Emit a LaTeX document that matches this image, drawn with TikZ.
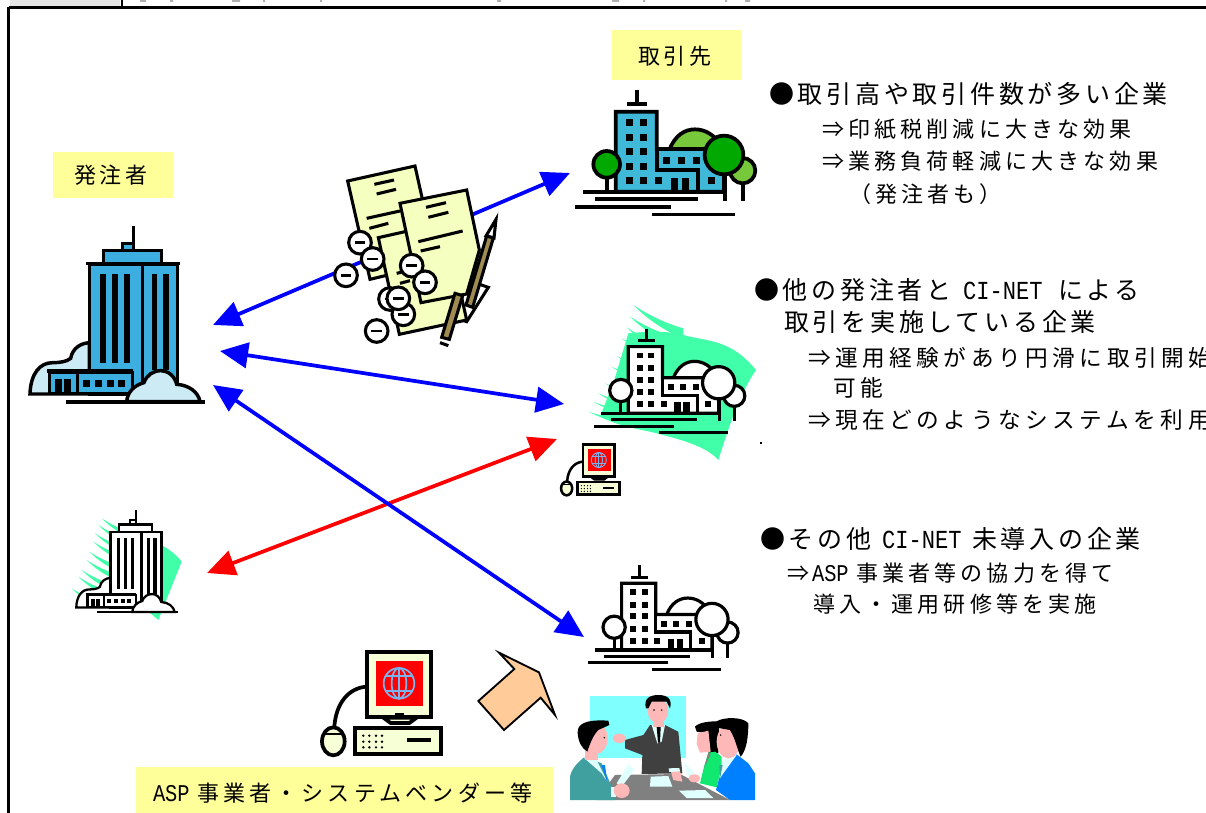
\documentclass[tikz,border=0pt]{standalone}
\usepackage{fontspec}
\usetikzlibrary{arrows.meta}
\newfontfamily\jpf{Noto Sans CJK JP}
\newfontfamily\lat[FakeStretch=0.85]{Liberation Mono}
\definecolor{labelyellow}{HTML}{FFFF99}
\definecolor{towerblue}{HTML}{3DAEE0}
\definecolor{cloudblue}{HTML}{CDEBF5}
\definecolor{mint}{HTML}{40FFA8}
\definecolor{paper}{HTML}{F4FFC0}
\definecolor{pcl}{HTML}{F6FFD6}
\definecolor{pencilb}{HTML}{A08C50}
\definecolor{treedark}{HTML}{00A800}
\definecolor{treelight}{HTML}{78C83C}
\definecolor{campusblue}{HTML}{40B8D8}
\definecolor{globeb}{HTML}{78B4F0}
\definecolor{peach}{HTML}{FFCC99}
\definecolor{skin}{HTML}{FFB8B8}
\definecolor{teal}{HTML}{40A0A0}
\definecolor{suit}{HTML}{404040}
\definecolor{tablegray}{HTML}{808080}
\definecolor{ice}{HTML}{E0FFFF}
\definecolor{cellgray}{HTML}{E6E6E6}
\definecolor{wall}{HTML}{80FFFF}
\definecolor{jacket}{HTML}{0080FF}
\definecolor{dress}{HTML}{10E870}
\definecolor{speck}{HTML}{B0B0B0}
\tikzset{
  lab/.style={fill=labelyellow,draw=none},
  conn/.style={line width=2.8pt,{Triangle[length=21pt,width=19pt]}-{Triangle[length=21pt,width=19pt]}},
  jt/.style={anchor=base west,inner sep=0pt,outer sep=0pt,text=black},
  big/.style={jt,font=\jpf\fontsize{18.75}{18}\selectfont\addfontfeature{LetterSpace=15}},
  mid/.style={jt,font=\jpf\fontsize{16.5}{18}\selectfont\addfontfeature{LetterSpace=17}},
  mids/.style={jt,font=\jpf\fontsize{16.5}{18}\selectfont\addfontfeature{LetterSpace=19}},
  lt/.style={jt,font=\lat\fontsize{19.5}{18}\selectfont},
  lts/.style={jt,font=\lat\fontsize{18}{18}\selectfont},
  mn/.style={draw=black,line width=2.3pt,fill=white},
}
% --- tall office tower, coordinates of a 900x840 sketch
\newcommand\towerart[3]{%
\begin{scope}[ol/.style={draw=black,line width=#3pt,fill=#1},cl/.style={draw=black,line width=#3pt,fill=#2}]
\path[cl] (90,762) .. controls (92,700) and (120,668) .. (158,668) .. controls (180,668) and (200,665) .. (212,655) .. controls (218,625) and (240,610) .. (268,608) -- (268,762) -- cycle;
\path[ol] (268,372) rectangle (532,762);
\draw[line width=#3pt] (428,372) -- (428,762);
\draw[line width=#3pt] (258,370) -- (540,370);
\path[ol] (310,332) rectangle (484,370);
\path[ol] (368,310) rectangle (400,332);
\draw[line width=#3pt] (401,258) -- (401,310);
\foreach \a in {300,336,372} \fill (\a,402) rectangle +(18,266);
\foreach \a in {456,490} \fill (\a,402) rectangle +(16,288);
\path[ol] (148,697) rectangle (398,760);
\draw[line width=#3pt] (140,693) -- (400,693);
\draw[line width=#3pt] (232,697) -- (232,760);
\foreach \a in {165,193} \fill (\a,718) rectangle +(20,42);
\foreach \a in {250,285,320,355} \fill (\a,720) rectangle +(21,20);
\path[cl] (380,785) .. controls (382,755) and (405,735) .. (432,728) .. controls (440,705) and (460,692) .. (483,692) .. controls (505,692) and (525,710) .. (530,733) .. controls (565,735) and (595,755) .. (600,785) -- cycle;
\draw[line width=#3pt] (198,786) -- (615,786);
\end{scope}}
% --- campus of buildings and trees
\newcommand\campusart[5]{%
\begin{scope}[ol/.style={draw=black,line width=#5pt}]
\path[ol,fill=#4] (328,230) -- (328,210) .. controls (345,165) and (375,148) .. (405,148) .. controls (435,148) and (465,165) .. (480,195) -- (480,230) -- cycle;
\draw[line width=#5pt] (548,310) -- (548,362);
\draw[line width=#5pt] (494,285) -- (494,362);
\path[ol,fill=#4] (548,272) circle (38);
\path[ol,fill=#1] (167,95) -- (290,95) -- (290,207) -- (440,207) -- (492,240) -- (492,335) -- (167,335) -- cycle;
\draw[line width=#5pt] (290,207) -- (290,270) -- (415,270) -- (415,335);
\foreach \a/\b in {208/127,250/127,208/172,250/172,208/214,250/214,208/259,250/259,208/301,250/301,295/301,319/241,364/241,409/241,455/301}
  \fill (\a-10.5,\b-10.5) rectangle +(21,21);
\fill (333,295) rectangle (355,335);
\fill (365,295) rectangle (388,335);
\draw[line width=#5pt] (232,30) -- (232,72);
\draw[line width=#5pt] (202,73) -- (262,73);
\draw[line width=#5pt] (140,293) -- (140,332);
\path[ol,fill=#3] (140,253) circle (40);
\path[ol,fill=#2] (492,225) circle (58);
\draw[line width=#5pt] (70,335) -- (492,335);
\fill (105,352) rectangle (413,362);
\fill (45,376) rectangle (332,386);
\fill (276,399) rectangle (525,409);
\end{scope}}
% --- computer, coordinates of the bottom-left sketch
\newcommand\pcart[2]{%
\begin{scope}[ol/.style={draw=black,line width=#1pt}]
\draw[line width=#1pt] (198,380) .. controls (145,385) and (108,430) .. (103,500);
\path[ol,fill=pcl] (100,544) ellipse (34 and 42);
\draw[line width=#2pt] (72,522) -- (128,522);
\path[ol,fill=pcl] (250,473) -- (272,489) -- (328,489) -- (350,473) -- cycle;
\path[ol,fill=pcl] (201,275) rectangle (392,470);
\fill[red] (228,303) rectangle (369,438);
\fill (286,460) rectangle (312,470);
\draw[globeb,line width=#2pt] (297,370) circle (46);
\draw[globeb,line width=#2pt] (297,370) ellipse (22 and 46);
\draw[globeb,line width=#2pt] (297,324) -- (297,416);
\draw[globeb,line width=#2pt] (256,348) -- (338,348);
\draw[globeb,line width=#2pt] (256,392) -- (338,392);
\path[ol,fill=pcl] (165,505) rectangle (423,582);
\foreach \a in {190,208,228,246} \foreach \b in {527,545,562} \fill (\a,\b) circle (4);
\fill (320,533) rectangle (393,546);
\end{scope}}
% --- feathered strand of a backdrop
\newcommand\strand[4]{%
\begin{scope}[shift={(#1,#2)}]
\fill[mint] (0,0) .. controls (0.3*#3,0.45*#4) and (0.65*#3,0.8*#4) .. (#3,#4) -- (#3,0.7*#4) .. controls (0.65*#3,0.55*#4) and (0.3*#3,0.3*#4) .. (0,0) -- cycle;
\end{scope}}
\begin{document}
\begin{tikzpicture}[x=0.75pt,y=-0.75pt]
\useasboundingbox (0,0) rectangle (1206,813);
\clip (0,0) rectangle (1206,813);
% frame
\fill[cellgray] (10,0) rectangle (120,7);
\fill[speck] (497,0) rectangle (501,2) (612,0) rectangle (619,2) (643,0) rectangle (645,2) (725,0) rectangle (727,2) (745,0) rectangle (750,2) (232,0) rectangle (240,2) (140,0) rectangle (146,2) (170,0) rectangle (173,2) (263,0) rectangle (265,2) (320,0) rectangle (322,2);
\draw[line width=1.6pt] (8.5,7.5) -- (1206,7.5);
\draw[line width=1.6pt] (8.5,7.5) -- (8.5,813);
\draw[line width=1pt] (122,0) -- (122,8);
% labels
\fill[lab] (53,152) rectangle (173,198);
\fill[lab] (612,30) rectangle (741,80);
\fill[lab] (136,767) rectangle (553,813);
\node[mid] (hatchu) at (74,184) {発注者};
\node[mid] (torihiki) at (638,65) {取引先};
\node[lts] (asp) at (153,801) {ASP};
\node[mids] (vendor) at (197,801) {事業者・システムベンダー等};
% right texts
\node[big] (a1) at (769,104) {●取引高や取引件数が多い企業};
\node[mids] (a2) at (822,138) {⇒印紙税削減に大きな効果};
\node[mids] (a3) at (822,170) {⇒業務負荷軽減に大きな効果};
\node[mids] (a4) at (849,202) {（発注者も）};
\node[big] (b1) at (754,299) {●他の発注者と};
\node[lt] (b1l) at (963,299) {CI-NET};
\node[big] (b1r) at (1058,299) {による};
\node[big] (b2) at (784,331) {取引を実施している企業};
\node[jt,font=\jpf\fontsize{17}{18}\selectfont\addfontfeature{LetterSpace=20}] (b3) at (808,366) {⇒運用経験があり円滑に取引開始};
\node[jt,font=\jpf\fontsize{17}{18}\selectfont\addfontfeature{LetterSpace=20}] (b4) at (833,396) {可能};
\node[jt,font=\jpf\fontsize{17}{18}\selectfont\addfontfeature{LetterSpace=20}] (b5) at (808,428) {⇒現在どのようなシステムを利用};
\node[big] (c1) at (760,548) {●その他};
\node[lt] (c1l) at (882,548) {CI-NET};
\node[big] (c1r) at (972,548) {未導入の企業};
\node[mids] (c2) at (787,581) {⇒};
\node[lts] (c2l) at (812,581) {ASP};
\node[mids] (c2r) at (856,581) {事業者等の協力を得て};
\node[mids] (c3) at (813,612) {導入・運用研修等を実施};
% anchor points of the connectors
\coordinate (o1) at (213,325);
\coordinate (o2) at (220,351);
\coordinate (o3) at (213,385);
\coordinate (s1) at (570,173);
\coordinate (s2) at (564,404);
\coordinate (s3) at (584,637);
\coordinate (r1) at (207,573);
\coordinate (r2) at (557,439);
% connectors
\draw[conn,red] (r1) -- (r2);
\draw[conn,blue] (o1) -- (s1);
\draw[conn,blue] (o2) -- (s2);
\draw[conn,blue] (o3) -- (s3);
% big tower
\begin{scope}[shift={(0,140)},scale=1/3]
\towerart{towerblue}{cloudblue}{2.6}
\end{scope}
% small tower on backdrop
\begin{scope}[shift={(50,500)},scale=1/3]
\fill[mint] (335,135) .. controls (360,150) and (380,165) .. (395,185) -- (325,360) -- (290,330) -- cycle;
\foreach \a/\b in {155/55,145/75,135/100,130/125,118/155,110/180,95/210,85/230,65/265}
  {\strand{\a}{\b}{90}{60}}
\end{scope}
\begin{scope}[shift={(58.9,460.5)},scale=0.193]
\towerart{white}{white}{1.7}
\end{scope}
% documents
\begin{scope}[shift={(320,150)},scale=1/3,dk/.style={draw=black,line width=2.3pt},ln/.style={line width=2.3pt}]
\path[dk,fill=paper] (83,93) -- (285,48) -- (350,340) -- (150,388) -- cycle;
\foreach \p/\q in {{163,103}/{222,90},{170,132}/{228,118},{140,205}/{240,183},{148,235}/{205,220}}
  \draw[ln] (\p) -- (\q);
\path[dk,fill=white] (410,380) -- (505,412) -- (440,515) -- (400,500) -- cycle;
\path[dk,fill=paper] (175,263) -- (375,218) -- (440,510) -- (238,553) -- cycle;
\foreach \p/\q in {{230,370}/{265,362},{240,400}/{270,392}}
  \draw[ln] (\p) -- (\q);
\path[dk,fill=paper] (240,160) -- (440,120) -- (478,300) -- (440,432) -- (303,458) -- cycle;
\foreach \p/\q in {{318,172}/{378,158},{325,202}/{385,187},{295,275}/{428,243},{302,303}/{360,290}}
  \draw[ln] (\p) -- (\q);
\path[dk,fill=white] (498,258) -- (528,208) -- (522,264) -- cycle;
\path[dk,fill=pencilb] (500,258) -- (520,264) -- (458,472) -- (438,465) -- cycle;
\path[dk,fill=pencilb] (405,430) -- (428,437) -- (388,568) -- (365,562) -- cycle;
\draw[ln] (360,578) -- (385,587);
\foreach \a/\b in {120/278,158/327,78/376,275/347,315/397,210/447,250/493,235/445,170/543}
  {\path[mn] (\a,\b) circle (34);
   \draw[line width=2.2pt] (\a-16,\b) -- (\a+16,\b);}
\end{scope}
% campus 1 (colour)
\begin{scope}[shift={(560,80)},scale=1/3]
\campusart{campusblue}{treedark}{treedark}{treelight}{2.8}
\end{scope}
% campus 2 on backdrop
\begin{scope}[shift={(550,300)},scale=1/3]
\fill[mint] (235,100) .. controls (290,95) and (340,90) .. (400,105) .. controls (470,125) and (540,115) .. (618,210) .. controls (570,280) and (540,370) .. (505,480) .. controls (470,440) and (400,420) .. (300,395) .. controls (250,385) and (200,375) .. (150,350) -- (190,250) -- cycle;
\foreach \a/\b/\w/\h in {250/15/150/100,240/50/140/90,230/82/130/85,215/115/130/70,200/168/100/50,185/200/100/50,165/250/100/40,145/280/100/45,130/305/100/40,115/335/120/40}
  {\strand{\a}{\b}{\w}{\h}}
\end{scope}
\begin{scope}[shift={(581.9,320.2)},scale=0.278]
\campusart{white}{white}{white}{white}{2.4}
\end{scope}
\fill (760,442) rectangle (762,444);
% small computer
\begin{scope}[shift={(550.3,399.6)},scale=0.1633]
\pcart{1.9}{0.7}
\end{scope}
% campus 3
\begin{scope}[shift={(575.2,556.9)},scale=0.278]
\campusart{white}{white}{white}{white}{2.4}
\end{scope}
% big computer
\begin{scope}[shift={(300,560)},scale=1/3]
\pcart{2.8}{1.3}
\end{scope}
% block arrow and meeting scene
\begin{scope}[shift={(300,560)},scale=1/3]
\path[draw=black,line width=1.4pt,fill=peach] (597,278) -- (717,337) -- (765,465) -- (722,413) -- (612,510) -- (535,423) -- (643,327) -- cycle;
\fill[wall] (870,408) rectangle (1158,595);
% table
\fill[tablegray] (890,720) -- (945,645) -- (1140,642) -- (1290,720) -- cycle;
\fill[ice] (1052,650) -- (1105,648) -- (1117,680) -- (1050,680) -- cycle;
\fill[ice] (1137,692) -- (1215,690) -- (1240,714) -- (1160,714) -- cycle;
% centre man
\fill[suit] (1025,642) -- (1027,585) -- (975,565) -- (975,540) -- (1030,525) -- (1050,495) -- (1095,495) -- (1135,515) -- (1147,640) -- cycle;
\fill[skin] (958,535) ellipse (20 and 14);
\fill[skin] (1112,632) -- (1140,632) -- (1147,665) -- (1120,660) -- cycle;
\fill[ice] (1106,625) -- (1138,624) -- (1140,634) -- (1108,636) -- cycle;
\fill[ice] (1055,495) -- (1095,495) -- (1085,545) -- (1072,550) -- cycle;
\fill (1070,500) -- (1082,500) -- (1080,548) -- (1074,548) -- cycle;
\fill[skin] (1060,470) rectangle (1092,500);
\fill[skin] (1074,452) ellipse (31 and 38);
\fill (1038,445) .. controls (1030,415) and (1050,405) .. (1075,405) .. controls (1100,405) and (1118,415) .. (1110,445) -- (1100,425) -- (1055,425) -- (1045,445) -- cycle;
\fill (1062,450) circle (2.5) (1085,450) circle (2.5);
% left man
\fill[teal] (810,720) -- (810,650) .. controls (815,625) and (835,605) .. (855,590) -- (905,610) -- (935,680) -- (945,720) -- cycle;
\fill[ice] (850,592) -- (885,590) -- (922,665) -- (905,640) -- cycle;
\fill[jacket] (905,615) -- (915,615) -- (922,668) -- cycle;
\fill[skin] (885,535) ellipse (38 and 48);
\fill[skin] (855,560) rectangle (895,600);
\fill (833,520) .. controls (830,490) and (860,478) .. (925,482) -- (928,495) -- (895,510) .. controls (880,525) and (870,550) .. (862,575) .. controls (845,565) and (835,545) .. (833,520) -- cycle;
\fill (913,533) circle (2.5);
\fill[ice] (950,670) -- (985,612) -- (1003,630) -- (965,680) -- cycle;
\fill[ice] (932,680) rectangle (948,712);
\fill[skin] (965,692) ellipse (24 and 22);
% woman
\fill (1185,500) .. controls (1195,488) and (1230,482) .. (1258,485) -- (1255,580) -- (1225,578) -- (1225,520) -- (1190,515) -- cycle;
\fill[skin] (1193,520) -- (1225,512) -- (1232,575) -- (1200,578) -- (1190,552) -- cycle;
\fill[dress] (1200,670) -- (1212,620) -- (1225,578) -- (1245,575) -- (1265,590) -- (1265,620) -- (1250,682) -- cycle;
\fill[tablegray] (1212,625) -- (1225,578) -- (1232,582) -- cycle;
\fill[ice] (1150,605) -- (1185,640) -- (1165,650) -- cycle;
\fill[skin] (1183,655) ellipse (18 and 12);
% right man
\fill[jacket] (1365,720) -- (1365,640) -- (1345,610) -- (1310,583) -- (1262,640) -- (1248,690) -- (1290,720) -- cycle;
\fill[ice] (1268,600) -- (1310,585) -- (1270,640) -- (1260,655) -- cycle;
\fill[teal] (1258,615) -- (1268,615) -- (1260,655) -- cycle;
\fill[skin] (1285,545) ellipse (35 and 50);
\fill (1248,485) .. controls (1270,470) and (1330,470) .. (1345,490) .. controls (1345,530) and (1340,570) .. (1322,590) .. controls (1312,570) and (1308,540) .. (1290,510) -- (1250,503) -- cycle;
\fill (1262,525) circle (2.5);
\end{scope}
\end{tikzpicture}
\end{document}
